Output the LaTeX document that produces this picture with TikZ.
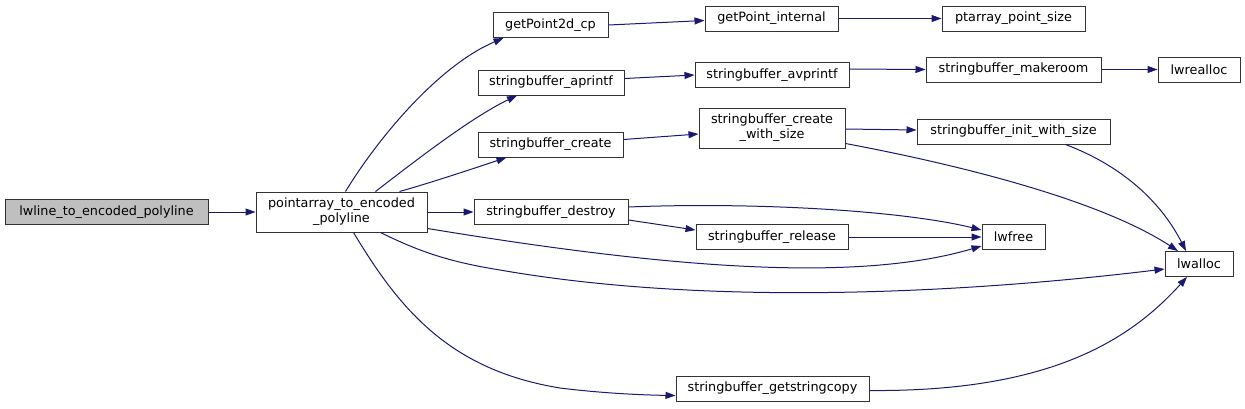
\documentclass[tikz,border=0pt]{standalone}
\usepackage{fontspec}
\setmainfont{DejaVu Sans}
\usetikzlibrary{arrows.meta}
\definecolor{edgec}{HTML}{191970}
\definecolor{nodeb}{HTML}{333333}
\begin{document}
\begin{tikzpicture}[x=1pt,y=-1pt,
  fn/.style={draw=nodeb,line width=1pt,fill=white,inner sep=0pt,minimum height=25pt,
    font=\fontsize{12.8}{15}\selectfont,align=center},
  fn2/.style={fn,minimum height=40pt},
  cur/.style={fn,fill=black!25},
  edge/.style={draw=edgec,line width=1pt,-{Triangle[length=10pt,width=7pt]}}]
\useasboundingbox (0,0) rectangle (1245,408);
\node[cur,minimum width=203pt] (lw) at (106.5,212) {lwline\_to\_encoded\_polyline};
\node[fn2,minimum width=171pt] (pa) at (341.5,212) {pointarray\_to\_encoded\\\_polyline};
\node[fn,minimum width=115pt] (gp) at (550.5,25) {getPoint2d\_cp};
\node[fn,minimum width=146pt] (ap) at (551,82.5) {stringbuffer\_aprintf};
\node[fn,minimum width=145pt] (cr) at (550.5,144.5) {stringbuffer\_create};
\node[fn,minimum width=154pt] (de) at (551,212) {stringbuffer\_destroy};
\node[fn,minimum width=133pt] (gi) at (771.5,18.5) {getPoint\_internal};
\node[fn,minimum width=154pt] (av) at (772,75) {stringbuffer\_avprintf};
\node[fn2,minimum width=146pt] (cw) at (772,128) {stringbuffer\_create\\\_with\_size};
\node[fn,minimum width=152pt] (re) at (772,237) {stringbuffer\_release};
\node[fn,minimum width=193pt] (gs) at (772.5,388.5) {stringbuffer\_getstringcopy};
\node[fn,minimum width=143pt] (ps) at (1013.5,18.5) {ptarray\_point\_size};
\node[fn,minimum width=175pt] (mr) at (1013.5,69.5) {stringbuffer\_makeroom};
\node[fn,minimum width=193pt] (iw) at (1013.5,131.5) {stringbuffer\_init\_with\_size};
\node[fn,minimum width=82pt] (rl) at (1199,69.5) {lwrealloc};
\node[fn,minimum width=63pt] (fr) at (1013.5,237) {lwfree};
\node[fn,minimum width=68pt] (al) at (1199,264) {lwalloc};

\draw[edge] (lw.east) -- (pa.west);
\draw[edge] ([xshift=4pt]pa.north) .. controls (380,135) and (440,65) .. ([xshift=-47pt]gp.south);
\draw[edge] ([xshift=34pt]pa.north) .. controls (410,165) and (470,118) .. ([xshift=-34pt]ap.south);
\draw[edge] ([xshift=58pt]pa.north) .. controls (430,183) and (475,168) .. ([xshift=-44pt]cr.south);
\draw[edge] (pa.east) -- (de.west);
\draw[edge] ([yshift=4pt]pa.south east) .. controls (650,265) and (850,285) .. ([yshift=4pt]fr.south west);
\draw[edge] ([xshift=39pt]pa.south) .. controls (420,252) and (450,262) .. (500,270)
  .. controls (700,305) and (950,295) .. ([yshift=8pt]al.south west);
\draw[edge] ([xshift=12pt]pa.south) .. controls (400,310) and (450,370) .. (560,388)
  .. controls (600,393) and (640,395) .. ([yshift=-7pt]gs.west);
\draw[edge] (gp.east) -- ([yshift=-2pt]gi.west);
\draw[edge] (gi.east) -- (ps.west);
\draw[edge] ([yshift=4pt]ap.east) -- (av.west);
\draw[edge] ([yshift=6pt]av.east) -- (mr.west);
\draw[edge] (mr.east) -- (rl.west);
\draw[edge] ([yshift=5pt]cr.east) -- ([yshift=-6pt]cw.west);
\draw[edge] ([yshift=-1pt]cw.east) -- ([yshift=1.5pt]iw.west);
\draw[edge] ([yshift=5pt]cw.south east) .. controls (960,165) and (1100,200) .. ([xshift=-21pt]al.north);
\draw[edge] ([xshift=52pt]iw.south) .. controls (1120,165) and (1160,200) .. ([xshift=-13pt]al.north);
\draw[edge] ([yshift=5pt]de.east) .. controls (750,202) and (900,210) .. ([yshift=7pt]fr.west);
\draw[edge] ([yshift=-8pt]de.east) -- ([yshift=7pt]re.west);
\draw[edge] (re.east) -- (fr.west);
\draw[edge] ([yshift=-2pt]gs.east) .. controls (1050,392) and (1130,340) .. ([xshift=-12pt]al.south);
\end{tikzpicture}
\end{document}
